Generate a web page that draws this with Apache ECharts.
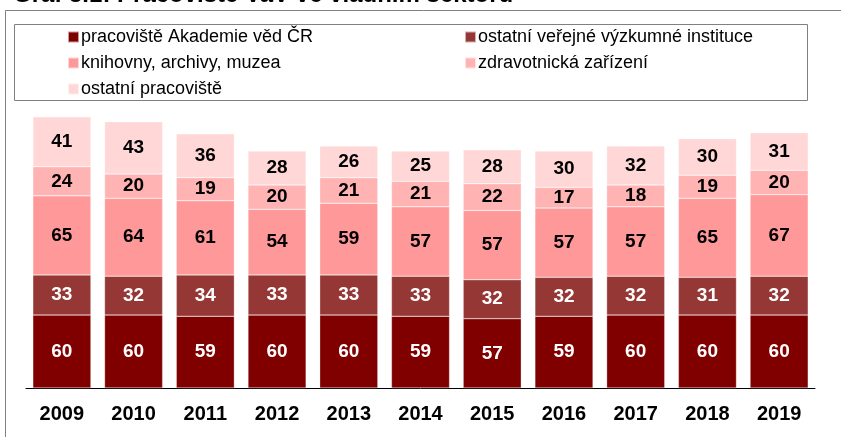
<!DOCTYPE html>
<html><head><meta charset="utf-8">
<script src="https://cdn.jsdelivr.net/npm/echarts@6/dist/echarts.min.js"></script>
<style>html,body{margin:0;padding:0;background:#fff}#c{width:841px;height:437px}</style>
</head><body><div id="c"></div>
<script>
const years = ['2009','2010','2011','2012','2013','2014','2015','2016','2017','2018','2019'];
const seriesNames = ['pracoviště Akademie věd ČR','ostatní veřejné výzkumné instituce','knihovny, archivy, muzea','zdravotnická zařízení','ostatní pracoviště'];
const akademie = [60,60,59,60,60,59,57,59,60,60,60];
const ostatniVerejne = [33,32,34,33,33,33,32,32,32,31,32];
const knihovny = [65,64,61,54,59,57,57,57,57,65,67];
const zdravotnicka = [24,20,19,20,21,21,22,17,18,19,20];
const ostatniPrac = [41,43,36,28,26,25,28,30,32,30,31];
const values = [akademie, ostatniVerejne, knihovny, zdravotnicka, ostatniPrac];
const colors = ['#800000','#953735','#FF9999','#FFB3B3','#FFD7D7'];
const labelColors = ['#ffffff','#ffffff','#000000','#000000','#000000'];
const font = 'Liberation Sans, Arial, sans-serif';

const legendText = {fontFamily:font,fontSize:18,color:'#000',padding:[0,0,0,-3]};
const chart = echarts.init(document.getElementById('c'));
chart.setOption({
  animation:false,
  title:{text:'Graf 5.1: Pracoviště VaV ve vládním sektoru',left:13,top:-17,padding:0,
    textStyle:{fontFamily:font,fontSize:24,fontWeight:'bold',color:'#000'}},
  legend:[
    {data:[seriesNames[0],seriesNames[2],seriesNames[4]],orient:'vertical',left:67,top:28,padding:0,itemGap:8,
     itemWidth:11,itemHeight:11,icon:'rect',textStyle:legendText},
    {data:[seriesNames[1],seriesNames[3]],orient:'vertical',left:464,top:28,padding:0,itemGap:8,
     itemWidth:11,itemHeight:11,icon:'rect',textStyle:legendText}
  ],
  graphic:[
    {type:'polyline',shape:{points:[[5.5,437],[5.5,10.5],[841,10.5]]},style:{stroke:'#808080',lineWidth:1,fill:null}},
    {type:'rect',shape:{x:14.5,y:24.5,width:793,height:76},style:{stroke:'#808080',lineWidth:1,fill:null}}
  ],
  grid:{left:26,right:26,top:84,bottom:49},
  xAxis:{type:'category',data:years,
    axisLine:{lineStyle:{color:'#000',width:1}},
    axisTick:{length:6,lineStyle:{color:'#808080'}},
    axisLabel:{fontFamily:font,fontSize:20,fontWeight:'bold',color:'#000',margin:16}},
  yAxis:{type:'value',min:0,max:250,show:false,splitLine:{show:false}},
  series: seriesNames.map((n,i)=>({
    name:n,type:'bar',stack:'t',data:values[i],barCategoryGap:'19%',
    itemStyle:{color:colors[i],borderColor:'rgba(255,255,255,0.6)',borderWidth:0.5},
    label:{show:true,position:'inside',fontFamily:font,fontSize:19,fontWeight:'bold',color:labelColors[i]}
  }))
});
</script></body></html>
